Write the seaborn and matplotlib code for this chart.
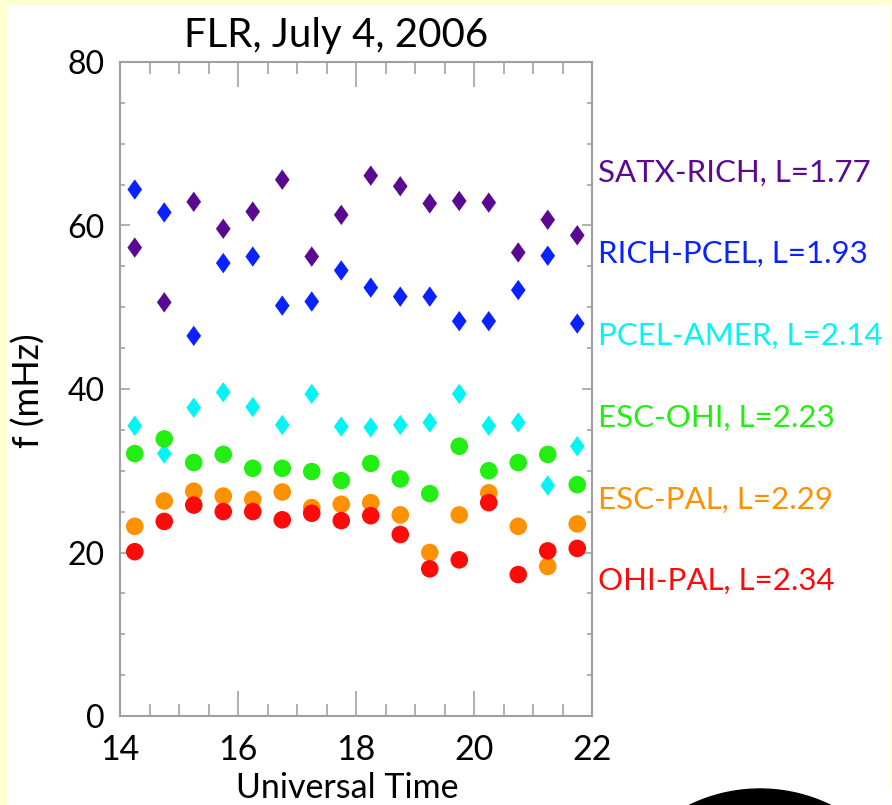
import numpy as np
import pandas as pd
import seaborn as sns
import matplotlib.pyplot as plt
from matplotlib.patches import Rectangle, Circle
from matplotlib.ticker import MultipleLocator
import matplotlib.transforms as mtransforms

# universal time of each FLR estimate (hours)
ut = [14.25, 14.75, 15.25, 15.75, 16.25, 16.75, 17.25, 17.75,
      18.25, 18.75, 19.25, 19.75, 20.25, 20.75, 21.25, 21.75]

# station pairs, bottom of the drawing order first
pairs = ["SATX-RICH", "RICH-PCEL", "PCEL-AMER", "ESC-OHI", "ESC-PAL", "OHI-PAL"]
lshell = ["1.77", "1.93", "2.14", "2.23", "2.29", "2.34"]
kinds = ["diamond", "diamond", "diamond", "circle", "circle", "circle"]
colors = ["#5a0a90", "#0a22ff", "#00f5f5", "#22ee11", "#ff9100", "#ff0a0a"]
label_y = [66.5, 56.5, 46.5, 36.5, 26.5, 16.5]

satx_rich = [57.3, 50.6, 62.9, 59.6, 61.7, 65.6, 56.2, 61.3,
             66.1, 64.8, 62.7, 63.0, 62.8, 56.7, 60.7, 58.8]
rich_pcel = [64.4, 61.6, 46.5, 55.4, 56.2, 50.2, 50.7, 54.5,
             52.4, 51.3, 51.3, 48.3, 48.3, 52.1, 56.3, 48.0]
pcel_amer = [35.5, 32.1, 37.7, 39.6, 37.8, 35.6, 39.4, 35.4,
             35.3, 35.6, 35.9, 39.4, 35.5, 35.9, 28.2, 33.0]
esc_ohi = [32.1, 33.9, 31.0, 32.0, 30.3, 30.3, 29.9, 28.8,
           30.9, 29.0, 27.2, 33.0, 30.0, 31.0, 32.0, 28.3]
esc_pal = [23.2, 26.3, 27.5, 26.9, 26.5, 27.4, 25.5, 25.9,
           26.1, 24.6, 20.0, 24.6, 27.3, 23.2, 18.3, 23.5]
ohi_pal = [20.1, 23.8, 25.8, 25.0, 25.0, 24.0, 24.8, 23.9,
           24.5, 22.2, 18.0, 19.1, 26.1, 17.3, 20.2, 20.5]
freqs = [satx_rich, rich_pcel, pcel_amer, esc_ohi, esc_pal, ohi_pal]

rows = []
for name, kind, f in zip(pairs, kinds, freqs):
    for t, v in zip(ut, f):
        rows.append({"UT": t, "f": v, "pair": name, "kind": kind})
df = pd.DataFrame(rows)

sns.set_theme(style="white")
plt.rcParams["font.family"] = ["Lato", "DejaVu Sans"]
plt.rcParams["text.color"] = "black"
plt.rcParams["axes.labelcolor"] = "black"

W, H = 892, 805
fig = plt.figure(figsize=(W / 100, H / 100), dpi=100)
fig.patch.set_facecolor("#ffffd0")
# white panel inside the yellow frame
fig.patches.append(Rectangle((8 / W, 0), 881 / W, 1 - 5 / H,
                             transform=fig.transFigure, color="white", zorder=-2))
fig.patches.append(Rectangle((889 / W, 0), 3 / W, 17 / H,
                             transform=fig.transFigure, color="white", zorder=-2))
# black logo edge peeking in at the bottom
fig.patches.append(Circle((760, -145), 161, transform=None,
                          color="black", zorder=-1))

ax = fig.add_axes([120 / W, 1 - 716 / H, 472 / W, 654 / H])
ax.set_zorder(5)
ax.set_facecolor("white")

diamond = [(0, 1), (0.72, 0), (0, -1), (-0.72, 0)]
sns.scatterplot(data=df, x="UT", y="f", hue="pair", style="kind",
                size="kind", palette=dict(zip(pairs, colors)),
                markers={"diamond": diamond, "circle": "o"},
                sizes={"diamond": 215, "circle": 160},
                linewidth=0, legend=False, ax=ax, zorder=3)

ax.set_xlim(14, 22)
ax.set_ylim(0, 80)
ax.xaxis.set_major_locator(MultipleLocator(2))
ax.xaxis.set_minor_locator(MultipleLocator(0.5))
ax.yaxis.set_major_locator(MultipleLocator(20))
ax.yaxis.set_minor_locator(MultipleLocator(5))

tick_col = "#9a9a9a"
ax.tick_params(axis="x", which="major", direction="in", length=18, width=1.1,
               color=tick_col, top=True, bottom=True, labelsize=24.5, pad=13,
               labelcolor="black")
ax.tick_params(axis="x", which="minor", direction="in", length=8.5, width=1.1,
               color=tick_col, top=True, bottom=True)
ax.tick_params(axis="y", which="major", direction="in", length=7, width=1.1,
               color=tick_col, left=True, right=True, labelsize=23, pad=11,
               labelcolor="black")
ax.tick_params(axis="y", which="minor", direction="in", length=3.6, width=1.1,
               color=tick_col, left=True, right=True)
for sp in ax.spines.values():
    sp.set_color("#a0a0a0")
    sp.set_linewidth(1.5)

ax.set_title("FLR, July 4, 2006", fontsize=29, x=0.458, pad=11)
ax.set_xlabel("Universal Time", fontsize=24.5)
ax.set_ylabel("f (mHz)", fontsize=26)
ax.xaxis.set_label_coords(0.481, -0.086)
ax.yaxis.set_label_coords(-0.158, 0.497)

trans = mtransforms.blended_transform_factory(ax.transAxes, ax.transData)
for name, l, c, yv in zip(pairs, lshell, colors, label_y):
    ax.text(1.013, yv, f"{name}, L={l}", transform=trans, color=c,
            fontsize=22.5, va="center", ha="left", clip_on=False)

fig.savefig("out.png", dpi=100, facecolor=fig.get_facecolor())
